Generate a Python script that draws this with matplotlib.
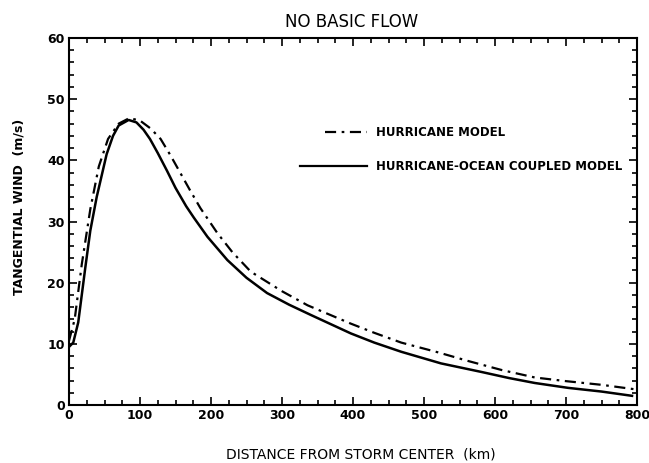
import matplotlib
matplotlib.use("Agg")
import matplotlib.pyplot as plt
from matplotlib.ticker import MultipleLocator

# values
km_hurricane = [0, 8, 18, 30, 42, 55, 70, 85, 100, 115, 129, 143, 157, 170, 185, 209, 230, 256,
                300, 336, 397, 430, 468, 520, 562, 610, 656, 700, 750, 795]
wind_hurricane = [10.5, 14.0, 23.0, 32.0, 39.0, 43.5, 46.0, 46.9, 46.5, 45.2, 43.5, 40.8, 37.9, 35.2, 32.2, 28.1, 25.0, 21.8,
                  18.6, 16.3, 13.3, 11.8, 10.2, 8.6, 7.2, 5.7, 4.5, 3.9, 3.3, 2.6]

km_coupled = [0, 6, 13, 23, 30, 39, 53, 62, 70, 84, 95, 105, 114, 125, 138, 150, 165, 176, 195, 223, 250,
              279, 310, 341, 397, 430, 468, 524, 581, 620, 656, 703, 750, 793]
wind_coupled = [9.5, 10.2, 13.5, 22.5, 28.5, 34.0, 41.0, 44.0, 45.7, 46.6, 46.2, 45.0, 43.5, 41.2, 38.3, 35.5, 32.5, 30.6, 27.5, 23.7, 20.8,
                18.3, 16.4, 14.7, 11.7, 10.2, 8.7, 6.8, 5.4, 4.4, 3.6, 2.8, 2.2, 1.5]

x_ticks = [0, 100, 200, 300, 400, 500, 600, 700, 800]
y_ticks = [0, 10, 20, 30, 40, 50, 60]

my_dpi = 100
fig = plt.figure(figsize=(649 / my_dpi, 463 / my_dpi), dpi=my_dpi)
ax = fig.add_axes([69 / 649, 1 - 405 / 463, 568 / 649, 367 / 463])

dashdot = (5, 2.5, 1.2, 2.5)
ax.plot(km_hurricane, wind_hurricane, color="black", lw=1.6, dashes=dashdot)
ax.plot(km_coupled, wind_coupled, color="black", lw=1.8)

ax.set_xlim(0, 800)
ax.set_ylim(0, 60)
ax.set_xticks(x_ticks)
ax.set_yticks(y_ticks)
ax.xaxis.set_minor_locator(MultipleLocator(25))
ax.yaxis.set_minor_locator(MultipleLocator(2))
ax.tick_params(which="both", direction="in", top=True, right=True, width=1.2)
ax.tick_params(which="major", length=6, labelsize=9, pad=3)
ax.tick_params(which="minor", length=3.5)
for lab in ax.get_xticklabels() + ax.get_yticklabels():
    lab.set_fontweight("bold")
for sp in ax.spines.values():
    sp.set_linewidth(1.5)

# legend drawn by hand like the original
fig.lines.append(plt.Line2D([325 / 649, 367 / 649], [1 - 132 / 463] * 2, color="black", lw=1.6,
                            dashes=dashdot, transform=fig.transFigure))
fig.lines.append(plt.Line2D([300 / 649, 367 / 649], [1 - 166 / 463] * 2, color="black", lw=1.6,
                            transform=fig.transFigure))
fig.text(376 / 649, 1 - 132 / 463, "HURRICANE MODEL", fontsize=8.5, fontweight="bold", va="center")
fig.text(376 / 649, 1 - 166 / 463, "HURRICANE-OCEAN COUPLED MODEL", fontsize=8.5, fontweight="bold", va="center")

fig.text(352 / 649, 1 - 22 / 463, "NO BASIC FLOW", fontsize=12, fontweight="medium",
         ha="center", va="center")
fig.text(361 / 649, 1 - 455 / 463, "DISTANCE FROM STORM CENTER  (km)", fontsize=10,
         fontweight="medium", ha="center", va="center")
fig.text(19 / 649, 1 - 207 / 463, "TANGENTIAL WIND  (m/s)", fontsize=9, fontweight="bold",
         rotation=90, ha="center", va="center")

plt.savefig("out.png", dpi=my_dpi)
